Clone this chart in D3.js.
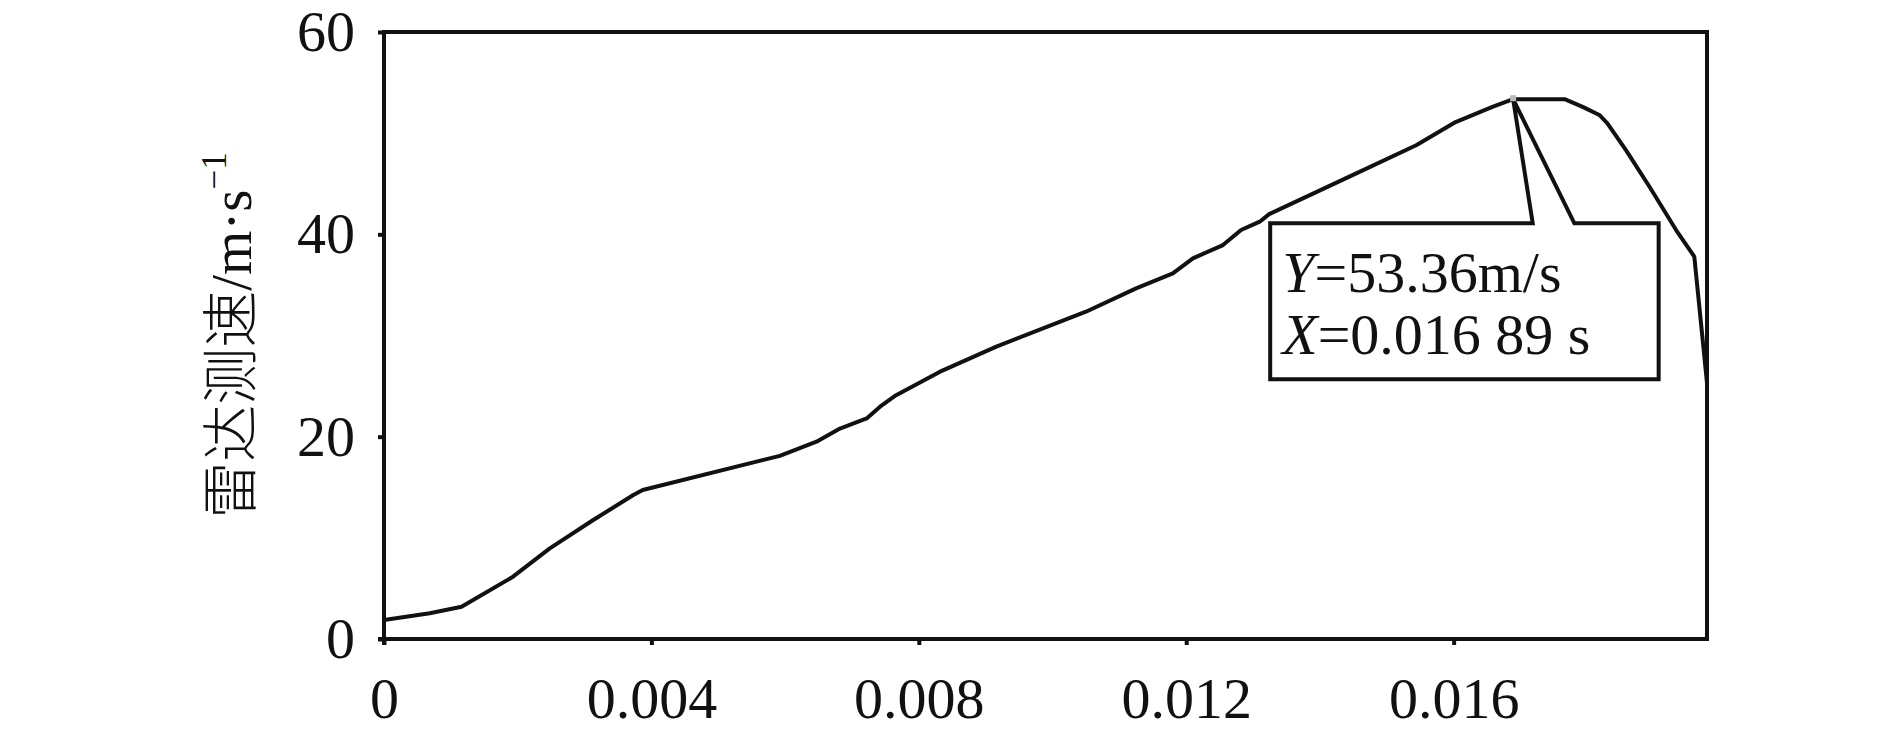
<!DOCTYPE html>
<html>
<head>
<meta charset="utf-8" />
<style>
    body { margin: 0; background: #fff; }
    svg { font-family: "Liberation Serif", "Times New Roman", "Noto Sans CJK SC", serif; }
    .axis path, .axis line { stroke: #111; stroke-width: 4; }
    .axis text { font-size: 58px; fill: #111; }
</style>
</head>
<body>
<svg width="1890" height="744"></svg>
<script src="https://d3js.org/d3.v7.min.js"></script>
<script>
    // radar speed trace
    var timeS = [0, 0.000685, 0.00116, 0.00193, 0.00248, 0.00313, 0.00373, 0.00387, 0.00592,
        0.00647, 0.00682, 0.00722, 0.00742, 0.00766, 0.00831, 0.00916, 0.0105, 0.01125, 0.0118,
        0.0121, 0.01255, 0.01282, 0.0131, 0.01324, 0.01444, 0.01544, 0.01603, 0.01658, 0.01689,
        0.01766, 0.01793, 0.01818, 0.0183, 0.01858, 0.01893, 0.01933, 0.0196, 0.01979];
    var speed = [1.88, 2.54, 3.19, 6.16, 8.96, 11.76, 14.23, 14.73, 18.1,
        19.5, 20.8, 21.8, 22.96, 24.1, 26.4, 28.9, 32.35, 34.66, 36.15,
        37.63, 38.94, 40.43, 41.25, 42.0, 45.7, 48.8, 51.1, 52.6, 53.36,
        53.36, 52.6, 51.8, 50.97, 48.3, 44.7, 40.4, 37.8, 25.3];
    var xTicks = [0, 0.004, 0.008, 0.012, 0.016];
    var xTickLabels = ["0", "0.004", "0.008", "0.012", "0.016"];
    var yTicks = [0, 20, 40, 60];
    var peak = { t: 0.01689, v: 53.36 };
    var peakLines = [["Y", "=53.36m/s"], ["X", "=0.016 89 s"]];

    var svg = d3.select("svg");
    var margin = { top: 32, right: 183, bottom: 105, left: 384 };
    var width = +svg.attr("width") - margin.left - margin.right;
    var height = +svg.attr("height") - margin.top - margin.bottom;
    var g = svg.append("g").attr("transform", "translate(" + margin.left + "," + margin.top + ")");

    var x = d3.scaleLinear().domain([0, 0.01979]).range([0, width]);
    var y = d3.scaleLinear().domain([0, 60]).range([height, 0]);

    // frame
    g.append("rect")
        .attr("width", width).attr("height", height)
        .attr("fill", "none").attr("stroke", "#111").attr("stroke-width", 4);

    g.append("g")
        .attr("class", "axis")
        .attr("transform", "translate(0," + height + ")")
        .call(d3.axisBottom(x).tickValues(xTicks).tickSize(6).tickPadding(32)
            .tickFormat(function (d, i) { return xTickLabels[i]; }))
        .call(function (a) { a.select(".domain").attr("d", "M-6,0H" + width); });

    g.append("g")
        .attr("class", "axis")
        .call(d3.axisLeft(y).tickValues(yTicks).tickSize(6).tickPadding(23))
        .call(function (a) { a.select(".domain").attr("d", "M0,0V" + (height + 6)); });

    g.selectAll(".axis text").attr("font-family", "Liberation Serif");

    // y axis label
    var yl = svg.append("text")
        .attr("transform", "translate(251," + (margin.top + height / 2) + ") rotate(-90)")
        .attr("text-anchor", "middle")
        .attr("font-size", 57)
        .attr("fill", "#111");
    yl.append("tspan").attr("font-family", "Noto Sans CJK SC").attr("font-weight", 300).text("雷达测速");
    yl.append("tspan").text("/m·s");
    yl.append("tspan").attr("font-size", 35).attr("dy", -25).text("−1");

    // curve
    var pts = timeS.map(function (t, i) { return [t, speed[i]]; });
    var line = d3.line().x(function (d) { return x(d[0]); }).y(function (d) { return y(d[1]); });
    g.append("path")
        .datum(pts)
        .attr("d", line)
        .attr("fill", "none")
        .attr("stroke", "#111")
        .attr("stroke-width", 4)
        .attr("stroke-linejoin", "round");

    // callout box in data units
    var box = { t0: 0.013256, t1: 0.019067, vTop: 41.09, vBot: 25.67, baseA: 0.017183, baseB: 0.017806 };
    var px = x(peak.t), py = y(peak.v);
    var callout = d3.path();
    callout.moveTo(x(box.t0), y(box.vTop));
    callout.lineTo(x(box.baseA), y(box.vTop));
    callout.lineTo(px, py);
    callout.lineTo(x(box.baseB), y(box.vTop));
    callout.lineTo(x(box.t1), y(box.vTop));
    callout.lineTo(x(box.t1), y(box.vBot));
    callout.lineTo(x(box.t0), y(box.vBot));
    callout.closePath();
    g.append("path")
        .attr("d", callout.toString())
        .attr("fill", "#fff")
        .attr("stroke", "#111")
        .attr("stroke-width", 4)
        .attr("stroke-linejoin", "miter");

    g.append("rect")
        .attr("x", px - 3).attr("y", py - 4)
        .attr("width", 6).attr("height", 6)
        .attr("fill", "#bbb");

    var tx = x(box.t0) + 12;
    peakLines.forEach(function (l, i) {
        var t = g.append("text")
            .attr("x", tx)
            .attr("y", y(box.vTop) + 69 + i * 62)
            .attr("font-size", 58)
            .attr("fill", "#111");
        t.append("tspan").attr("font-style", "italic").text(l[0]);
        t.append("tspan").text(l[1]);
    });
</script>
</body>
</html>
